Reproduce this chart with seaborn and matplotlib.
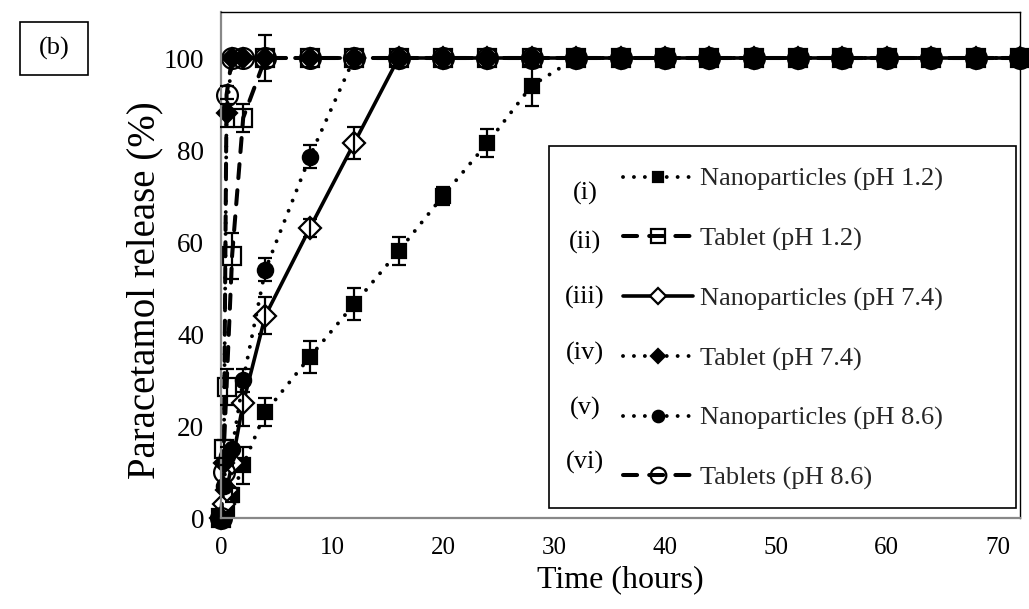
import numpy as np
import pandas as pd
import matplotlib
matplotlib.use("Agg")
import matplotlib.pyplot as plt
from matplotlib.patches import Rectangle
import seaborn as sns

# ---------------- data ----------------
time_h = [0, 0.25, 0.5, 1, 2, 4, 8, 12, 16, 20, 24, 28, 32, 36, 40, 44, 48, 52, 56, 60, 64, 68, 72]

np_ph12 = [0, 1, 2, 5, 11.5, 23, 35, 46.5, 58, 70, 81.5, 94, 100, 100, 100, 100, 100, 100, 100, 100, 100, 100, 100]
tab_ph12 = [0, 15, 28.5, 57, 87, 100, 100, 100, 100, 100, 100, 100, 100, 100, 100, 100, 100, 100, 100, 100, 100, 100, 100]
np_ph74 = [0, 3, 6, 12, 25, 44, 63, 81.5, 100, 100, 100, 100, 100, 100, 100, 100, 100, 100, 100, 100, 100, 100, 100]
tab_ph74 = [0, 12, 88, 100, 100, 100, 100, 100, 100, 100, 100, 100, 100, 100, 100, 100, 100, 100, 100, 100, 100, 100, 100]
np_ph86 = [0, 7, 13.5, 15, 30, 54, 78.5, 100, 100, 100, 100, 100, 100, 100, 100, 100, 100, 100, 100, 100, 100, 100, 100]
tab_ph86 = [0, 10, 92, 100, 100, 100, 100, 100, 100, 100, 100, 100, 100, 100, 100, 100, 100, 100, 100, 100, 100, 100, 100]

err_np_ph12 = [0, 0, 0, 1.5, 4, 3, 3.5, 3.5, 3, 2, 3, 4.5, 0, 0, 0, 0, 0, 0, 0, 0, 0, 0, 0]
err_tab_ph12 = [0, 2, 4, 5, 3, 5, 0, 0, 0, 0, 0, 0, 0, 0, 0, 0, 0, 0, 0, 0, 0, 0, 0]
err_np_ph74 = [0, 0, 0, 0, 5, 4, 2, 3.5, 0, 0, 0, 0, 0, 0, 0, 0, 0, 0, 0, 0, 0, 0, 0]
err_tab_ph74 = [0, 0, 3, 0, 0, 0, 0, 0, 0, 0, 0, 0, 0, 0, 0, 0, 0, 0, 0, 0, 0, 0, 0]
err_np_ph86 = [0, 0, 2, 0, 2.5, 2.5, 2.5, 0, 0, 0, 0, 0, 0, 0, 0, 0, 0, 0, 0, 0, 0, 0, 0]
err_tab_ph86 = [0, 0, 2, 0, 0, 0, 0, 0, 0, 0, 0, 0, 0, 0, 0, 0, 0, 0, 0, 0, 0, 0, 0]

series_names = ["Nanoparticles (pH 1.2)", "Tablet (pH 1.2)", "Nanoparticles (pH 7.4)",
                "Tablet (pH 7.4)", "Nanoparticles (pH 8.6)", "Tablets (pH 8.6)"]
roman = ["(i)", "(ii)", "(iii)", "(iv)", "(v)", "(vi)"]
x_ticks = [0, 10, 20, 30, 40, 50, 60, 70]
y_ticks = [0, 20, 40, 60, 80, 100]

values = [np_ph12, tab_ph12, np_ph74, tab_ph74, np_ph86, tab_ph86]
errors = [err_np_ph12, err_tab_ph12, err_np_ph74, err_tab_ph74, err_np_ph86, err_tab_ph86]

# ---------------- style ----------------
sns.set_theme(style="white")
plt.rcParams["font.family"] = ["Liberation Serif", "DejaVu Serif"]

DOT = (0, (0.01, 2.8))
DASH = (0, (3.5, 3.0))
styles = [
    dict(marker="s", ms=10, mfc="black", ls=DOT, lw=2.8),
    dict(marker="s", ms=13, mfc="none", ls=DASH, lw=2.9),
    dict(marker="D", ms=11, mfc="white", ls="-", lw=2.6),
    dict(marker="D", ms=10, mfc="black", ls=DOT, lw=2.8),
    dict(marker="o", ms=11, mfc="black", ls=DOT, lw=2.8),
    dict(marker="o", ms=15, mfc="none", ls=DASH, lw=2.9),
]

fig = plt.figure(figsize=(10.29, 6.09), dpi=100)
ax = fig.add_axes([221 / 1029, 1 - 518 / 609, 799 / 1029, 506 / 609])

handles = []
for name, vals, errs, st in zip(series_names, values, errors, styles):
    df = pd.DataFrame({"Time": time_h, "Release": vals})
    sns.lineplot(data=df, x="Time", y="Release", ax=ax, color="black",
                 errorbar=None, sort=False,
                 marker=st["marker"], markersize=st["ms"],
                 markerfacecolor=st["mfc"], markeredgecolor="black",
                 markeredgewidth=1.6, linestyle=st["ls"], linewidth=st["lw"],
                 dash_capstyle="round", solid_capstyle="round", clip_on=False)
    handles.append(ax.lines[-1])
    t = np.array(time_h)
    v = np.array(vals)
    e = np.array(errs)
    m = e > 0
    eb = ax.errorbar(t[m], v[m], yerr=e[m], fmt="none", ecolor="black",
                     elinewidth=1.6, capsize=5, capthick=1.6, zorder=3)
    for art in eb.lines[1] + eb.lines[2]:
        art.set_clip_on(False)

ax.set_xlim(0, 72)
ax.set_ylim(0, 110)
ax.set_xticks(x_ticks)
ax.set_yticks(y_ticks)
ax.tick_params(axis="both", which="major", direction="out", colors="#888888",
               labelcolor="black", labelsize=18, length=5, width=1.2)
ax.tick_params(axis="y", pad=7, labelsize=19.5)
ax.tick_params(axis="x", pad=9)
ax.set_xlabel("Time (hours)", fontsize=23, color="black", labelpad=4)
ax.set_ylabel("Paracetamol release (%)", fontsize=28, color="black")
ax.yaxis.set_label_coords(-0.072, 0.45)

for side in ["top", "right"]:
    ax.spines[side].set_color("black")
    ax.spines[side].set_linewidth(1.0)
for side in ["left", "bottom"]:
    ax.spines[side].set_color("#888888")
    ax.spines[side].set_linewidth(1.6)

# legend frame + legend
frame = Rectangle((0.4105, 0.0198), 0.5845, 0.7154, transform=ax.transAxes,
                  facecolor="white", edgecolor="black", linewidth=1.2, zorder=5)
ax.add_patch(frame)
leg = ax.legend(handles, series_names, loc="upper left", bbox_to_anchor=(0.5028, 0.693),
                frameon=False, borderpad=0, borderaxespad=0, handlelength=2.67,
                handletextpad=0.27, labelspacing=1.36, fontsize=19, markerscale=0.75)
leg.set_zorder(6)

rx = 0.4556
ry = [0.6423, 0.5455, 0.4368, 0.3261, 0.2174, 0.1107]
for r, yy in zip(roman, ry):
    ax.text(rx, yy, r, transform=ax.transAxes, ha="center", va="center",
            fontsize=19, color="black", zorder=7)

# (b) panel label
fig.patches.append(Rectangle((20 / 1029, 1 - 75 / 609), 68 / 1029, 53 / 609,
                             transform=fig.transFigure, facecolor="white",
                             edgecolor="black", linewidth=1.2))
fig.text(54 / 1029, 1 - 48 / 609, "(b)", ha="center", va="center", fontsize=19,
         color="black")

fig.savefig("out.png", dpi=100)
